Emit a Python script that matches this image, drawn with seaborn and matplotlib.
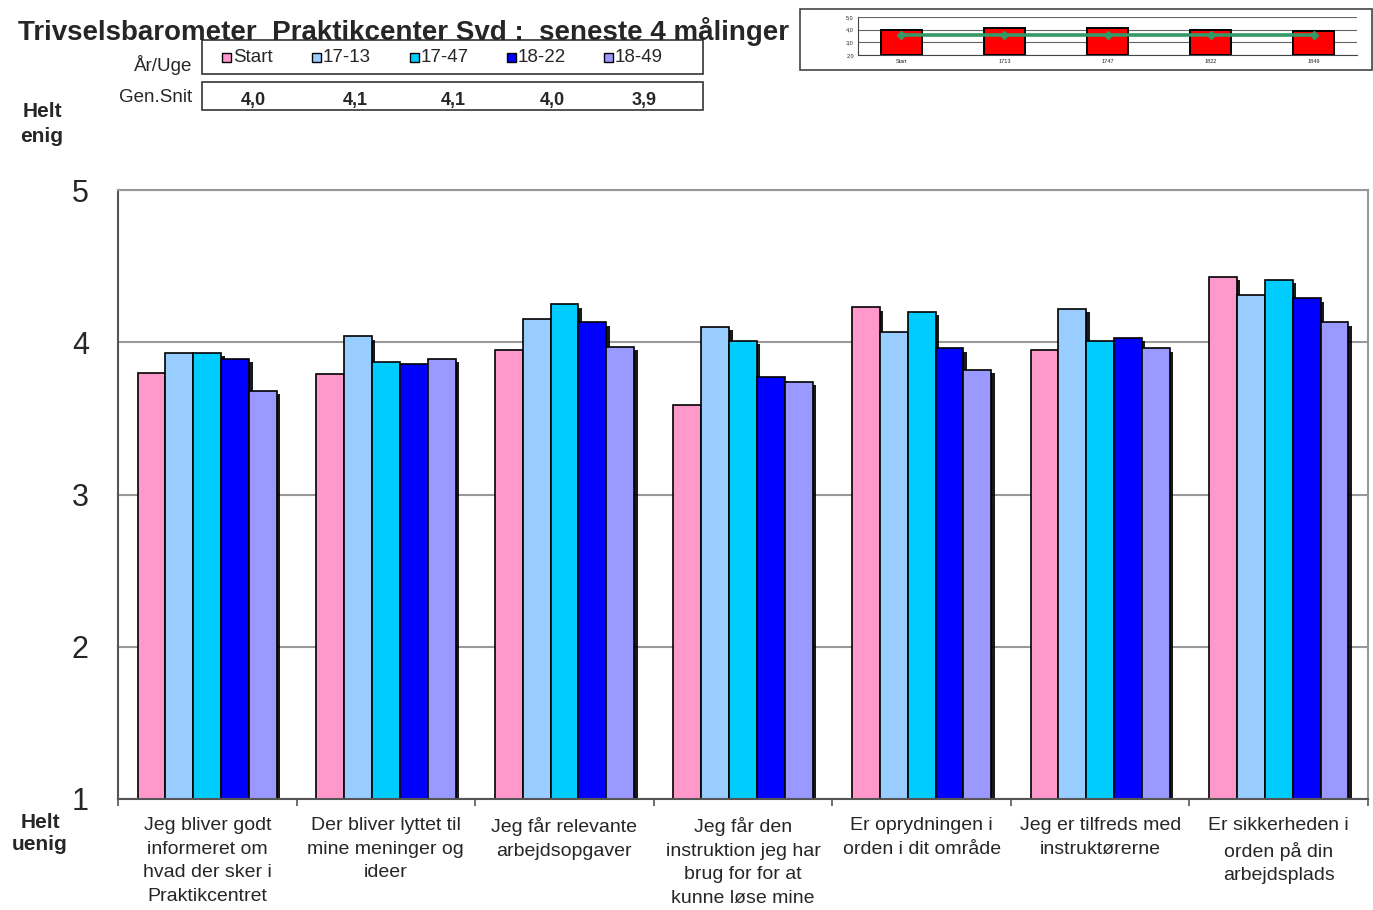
import matplotlib
matplotlib.use("Agg")
import matplotlib.pyplot as plt
import matplotlib.patheffects as pe
from matplotlib.patches import Rectangle
import seaborn as sns
import pandas as pd
import numpy as np

categories = [
    "Jeg bliver godt\ninformeret om\nhvad der sker i\nPraktikcentret",
    "Der bliver lyttet til\nmine meninger og\nideer",
    "Jeg får relevante\narbejdsopgaver",
    "Jeg får den\ninstruktion jeg har\nbrug for for at\nkunne løse mine",
    "Er oprydningen i\norden i dit område",
    "Jeg er tilfreds med\ninstruktørerne",
    "Er sikkerheden i\norden på din\narbejdsplads",
]
series = ["Start", "17-13", "17-47", "18-22", "18-49"]
start = [3.80, 3.79, 3.95, 3.59, 4.23, 3.95, 4.43]
s1713 = [3.93, 4.04, 4.15, 4.10, 4.07, 4.22, 4.31]
s1747 = [3.93, 3.87, 4.25, 4.01, 4.20, 4.01, 4.41]
s1822 = [3.89, 3.86, 4.13, 3.77, 3.96, 4.03, 4.29]
s1849 = [3.68, 3.89, 3.97, 3.74, 3.82, 3.96, 4.13]
gen_snit = [4.0, 4.1, 4.1, 4.0, 3.9]
mini_labels = ["Start", "1713", "1747", "1822", "1849"]
mini_line = [3.55, 3.55, 3.55, 3.55, 3.55]
colors = ["#FF99CC", "#99CCFF", "#00CCFF", "#0000FF", "#9999FF"]

rows = []
for name, vals in zip(series, [start, s1713, s1747, s1822, s1849]):
    for c, v in zip(categories, vals):
        rows.append({"cat": c, "serie": name, "val": v})
df = pd.DataFrame(rows)

sns.set_theme(style="white")
plt.rcParams['font.family'] = ['Liberation Sans', 'DejaVu Sans']

fig = plt.figure(figsize=(13.73, 9.10), dpi=100)
W, H = 1373, 910
ax = fig.add_axes([118 / W, 1 - 799 / H, (1368 - 118) / W, (799 - 190) / H])

sns.barplot(data=df, x="cat", y="val", hue="serie", palette=colors,
            width=0.78, edgecolor="black", linewidth=1.2, ax=ax,
            legend=False, errorbar=None, saturation=1)
shadow = [pe.SimplePatchShadow(offset=(2.5, -2.5), shadow_rgbFace="black", alpha=0.9), pe.Normal()]
for p in ax.patches:
    p.set_path_effects(shadow)

ax.set_ylim(1, 5)
ax.set_xlim(-0.5, len(categories) - 0.5)
ax.set_yticks([1, 2, 3, 4, 5])
ax.set_yticklabels(["1", "2", "3", "4", "5"], fontsize=22)
ax.yaxis.grid(True, color="#999999", linewidth=1.5)
ax.set_axisbelow(True)
ax.set_xlabel("")
ax.set_ylabel("")
ax.tick_params(axis="y", length=0, pad=21)
ax.set_xticks(range(len(categories)))
ax.set_xticklabels(categories, fontsize=14, linespacing=1.5, va="top")
ax.tick_params(axis="x", length=0, pad=13)
ax.set_xticks(np.arange(-0.5, len(categories) + 0.5, 1), minor=True)
ax.tick_params(axis="x", which="minor", length=5, color="#555555", width=1.2, direction="out", bottom=True)
for s in ["left", "bottom"]:
    ax.spines[s].set_color("#555555")
    ax.spines[s].set_linewidth(1.5)
for s in ["top", "right"]:
    ax.spines[s].set_color("#999999")
    ax.spines[s].set_linewidth(1.5)

# Title
fig.text(18 / W, 1 - 31 / H, "Trivselsbarometer  Praktikcenter Svd :  seneste 4 målinger",
         fontsize=20, fontweight="bold", va="center", ha="left")

# Legend box
fig.patches.append(Rectangle((202 / W, 1 - 74 / H), (703 - 202) / W, (74 - 40) / H,
                             transform=fig.transFigure, fill=False, edgecolor="#333333", linewidth=1.2))
fig.text(192 / W, 1 - 65 / H, "År/Uge", fontsize=13.5, ha="right", va="center")
leg_x = [230, 320, 418, 515, 612]
for x, name, col in zip(leg_x, series, colors):
    fig.patches.append(Rectangle(((x - 8) / W, 1 - 62 / H), 9 / W, 9 / H,
                                 transform=fig.transFigure, facecolor=col, edgecolor="black", linewidth=1))
    fig.text((x + 3) / W, 1 - 57 / H, name, fontsize=13.5, ha="left", va="center")

# Gen.Snit box
fig.patches.append(Rectangle((202 / W, 1 - 110 / H), (703 - 202) / W, (110 - 82) / H,
                             transform=fig.transFigure, fill=False, edgecolor="#333333", linewidth=1.2))
fig.text(192 / W, 1 - 97 / H, "Gen.Snit", fontsize=13.5, ha="right", va="center")
gs_x = [253, 355, 453, 552, 644]
for x, v in zip(gs_x, gen_snit):
    fig.text(x / W, 1 - 100 / H, f"{v:.1f}".replace(".", ","), fontsize=13,
             fontweight="bold", ha="center", va="center")

fig.text(42 / W, 1 - 124 / H, "Helt\nenig", fontsize=15, fontweight="bold",
         ha="center", va="center", linespacing=1.4)
fig.text(40 / W, 1 - 833 / H, "Helt\nuenig", fontsize=15, fontweight="bold",
         ha="center", va="center", linespacing=1.2)

# Mini chart
fig.patches.append(Rectangle((800 / W, 1 - 70 / H), (1372 - 800) / W, (70 - 9) / H,
                             transform=fig.transFigure, fill=False, edgecolor="#444444", linewidth=1.2))
max_ = fig.add_axes([858 / W, 1 - 55 / H, (1357 - 858) / W, (55 - 17) / H])
mini_df = pd.DataFrame({"lab": mini_labels, "val": gen_snit})
sns.barplot(data=mini_df, x="lab", y="val", color="red", saturation=1,
            width=0.4, edgecolor="black", linewidth=1.4, ax=max_, errorbar=None)
for p in max_.patches:
    p.set_y(2.0)
    p.set_height(p.get_height() - 2.0)
max_.plot(range(len(mini_labels)), mini_line, color="#339966", linewidth=2.6,
          marker="D", markersize=4)
max_.set_ylim(2, 5)
max_.set_yticks([2, 3, 4, 5])
max_.set_yticklabels(["2,0", "3,0", "4,0", "5,0"], fontsize=4)
max_.yaxis.grid(True, color="#666666", linewidth=0.8)
max_.set_axisbelow(True)
max_.tick_params(axis="both", labelsize=4, length=2, pad=1)
max_.set_xlabel("")
max_.set_ylabel("")
for s in ["top", "right"]:
    max_.spines[s].set_visible(False)
for s in ["left", "bottom"]:
    max_.spines[s].set_color("#444444")
    max_.spines[s].set_linewidth(0.8)

fig.savefig("out.png", dpi=100, facecolor="white")
